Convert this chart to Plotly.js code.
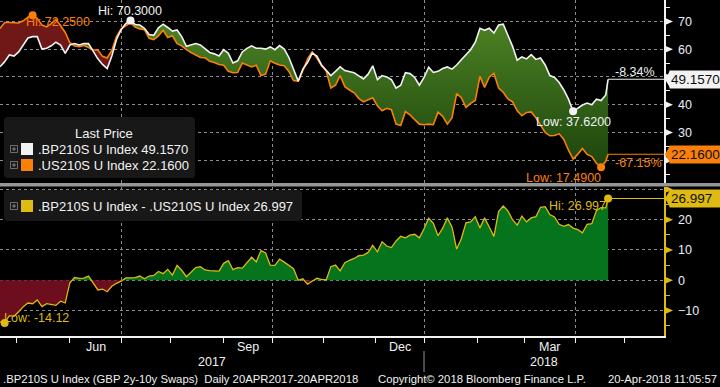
<!DOCTYPE html>
<html>
<head>
<meta charset="utf-8">
<script src="https://cdn.plot.ly/plotly-3.0.1.min.js"></script>
<style>
html,body{margin:0;padding:0;background:#000;}
#chart{width:720px;height:387px;}
</style>
</head>
<body>
<div id="chart"></div>
<script>
// ---------------- DATA ----------------
// x = trading-day index (weekdays since 20-Apr-2017), one sample every 2 trading days,
// the final sample is 20-Apr-2018 (trading day 261)
const sampleStep = 2;
const lastDay = 261;

// .BP210S U Index (GBP 2y-10y swap spread, bp)
const bp210s = [
  53.63, 55.5, 57.9, 57.5, 59, 61.5, 64, 64.5, 64.5, 60,
  60.3, 61.2, 62.5, 61.5, 58.5, 61.5, 62, 61.5, 62, 62,
  59, 56.5, 54.5, 53, 57.5, 63.5, 67, 69.2, 70.3, 68.9,
  68.7, 67.5, 65.3, 65, 67.7, 69, 67.8, 66.5, 66.9, 64.5,
  61, 61.6, 62, 61.5, 60.3, 58.8, 58.3, 57.5, 59.8, 58.5,
  55, 55.8, 59, 60.3, 61.2, 60.3, 60.3, 60, 60.8, 59.8,
  61.3, 60, 57, 52.5, 48.5, 52.8, 55.2, 58.6, 57.5, 54.3,
  52.2, 50.5, 52, 53.6, 52.3, 51.9, 51.5, 50.4, 49.3, 51,
  54, 49, 50.5, 50, 49, 46, 47, 51.5, 51.2, 49.8,
  47, 49.8, 53.5, 51.6, 52, 53, 53.6, 52.8, 54.3, 56.2,
  58, 59.8, 62.5, 67.5, 66.8, 67.5, 65.8, 68.7, 69, 65,
  61, 56, 57.2, 56.5, 58, 56.3, 56.8, 54.3, 50.5, 49.8,
  48, 45.3, 42, 37.62, 38.9, 39.9, 40.6, 40, 42, 41.5,
  43.5, 49.157
];

// .US210S U Index (USD 2y-10y swap spread, bp)
const us210s = [
  67.46, 69.62, 69.6, 69.4, 69.4, 70.2, 71.5, 72.25, 71, 68.7,
  68, 69.2, 70.8, 68.4, 66, 62.3, 61.1, 60.9, 61.3, 60.6,
  59.7, 59.7, 57.4, 56.8, 59.5, 64.5, 67.3, 68.4, 69.5, 68,
  67.3, 67, 63.9, 63.4, 64.8, 66.8, 64.2, 64.8, 62, 61.2,
  59.8, 58.8, 57.8, 57, 56.9, 55.6, 55.2, 54.5, 54.2, 52,
  51.5, 51.6, 55, 54.4, 53.6, 54.2, 50.5, 51, 55.8, 54.9,
  54.3, 54, 52, 48.7, 48.5, 52.3, 56.5, 59, 56.8, 54,
  52.1, 46, 47, 50.5, 46.5, 45.3, 44.3, 42.3, 41, 41.8,
  42.5, 39.6, 37.8, 38.7, 38.2, 33, 32.5, 37.5, 36.3, 34.6,
  33, 32.8, 33, 32.8, 37.3, 35.8, 33, 35.2, 44, 42.5,
  39, 40.5, 41.5, 50.2, 46.2, 49.9, 51.3, 46, 44.5, 42.1,
  41, 37.8, 36, 37.2, 37.4, 35.3, 32.7, 30, 28.8, 28.9,
  29.5, 27.5, 23.6, 20.4, 22.2, 24.2, 22.1, 21.3, 18.9, 17.49,
  19.6, 22.16
];

// Calendar (trading-day index of the first weekday of each month)
const monthStarts = [7, 30, 52, 73, 96, 117, 139, 161, 182, 205, 225, 247, 268];
const monthNames  = ['May','Jun','Jul','Aug','Sep','Oct','Nov','Dec','Jan','Feb','Mar','Apr','May'];
const labelledMonths = ['Jun', 'Sep', 'Dec', 'Mar'];
const quarterStarts = [52, 117, 182, 247];
const yearNames = ['2017', '2018'];
const yearBreak = 182;

// tick values; labels hidden behind the last-price tags are left empty
const topTicks = [20, 30, 40, 50, 60, 70];
const topTickText = ['', '30', '40', '', '60', '70'];
const bottomTicks = [-10, 0, 10, 20, 30];
const bottomTickText = ['\u221210', '0', '10', '20', ''];

const nameBP = '.BP210S U Index';
const nameUS = '.US210S U Index';
const footerLeft = '.BP210S U Index (GBP 2y-10y Swaps)  Daily 20APR2017-20APR2018';
const footerMid = 'Copyright\u00a9 2018 Bloomberg Finance L.P.';
const footerRight = '20-Apr-2018 11:05:57';

// ---------------- DERIVED ----------------
const days = bp210s.map((_, i) => (i < bp210s.length - 1 ? i * sampleStep : lastDay));
const spread = bp210s.map((v, i) => v - us210s[i]);
const nLast = bp210s.length - 1;
const bpLast = bp210s[nLast], usLast = us210s[nLast], spLast = spread[nLast];
const bpPct = (bpLast / bp210s[0] - 1) * 100;
const usPct = (usLast / us210s[0] - 1) * 100;
const argMax = a => a.reduce((m, v, i) => (v > a[m] ? i : m), 0);
const argMin = a => a.reduce((m, v, i) => (v < a[m] ? i : m), 0);

// ---------------- STYLE ----------------
const FONT = 'Liberation Sans, Arial, Helvetica, sans-serif';
const WHITE = 'rgb(242,242,242)';
const ORANGE = 'rgb(250,128,10)';
const YELLOW = 'rgb(222,186,18)';
const GRID = 'rgb(140,140,140)';
const XMAX = 285;
const PW = 664, PH = 336;           // plot area in pixels
const px = X => X / PW;             // pixel -> paper
const py = Y => (PH - Y) / PH;

// insert crossing points between series a and b
function withCrossings(xs, a, b) {
  const X = [], A = [], B = [];
  for (let i = 0; i < xs.length; i++) {
    if (i > 0) {
      const d0 = a[i-1] - b[i-1], d1 = a[i] - b[i];
      if (d0 * d1 < 0) {
        const t = d0 / (d0 - d1);
        const x = xs[i-1] + t * (xs[i] - xs[i-1]);
        const y = a[i-1] + t * (a[i] - a[i-1]);
        X.push(x); A.push(y); B.push(b[i-1] + t * (b[i] - b[i-1]));
      }
    }
    X.push(xs[i]); A.push(a[i]); B.push(b[i]);
  }
  return {X, A, B};
}

const topArea = withCrossings(days, bp210s, us210s);
const topUpper = topArea.A.map((v, i) => Math.max(v, topArea.B[i]));
const zeros = spread.map(() => 0);
const botArea = withCrossings(days, spread, zeros);

const noLine = {width: 0};
const traces = [
  // green area: US below BP
  {x: topArea.X, y: topArea.B, xaxis:'x', yaxis:'y', mode:'lines', line: noLine, hoverinfo:'skip'},
  {x: topArea.X, y: topUpper, xaxis:'x', yaxis:'y', mode:'lines', line: noLine, fill:'tonexty',
   fillcolor:'rgb(50,100,22)',
   fillgradient:{type:'vertical', start: 15, stop: 72,
     colorscale:[[0,'rgb(26,66,12)'],[1,'rgb(78,132,36)']]}, hoverinfo:'skip'},
  // red area: BP below US
  {x: topArea.X, y: topArea.A, xaxis:'x', yaxis:'y', mode:'lines', line: noLine, hoverinfo:'skip'},
  {x: topArea.X, y: topUpper, xaxis:'x', yaxis:'y', mode:'lines', line: noLine, fill:'tonexty',
   fillcolor:'rgb(112,24,24)', hoverinfo:'skip'},
  // lines
  {x: days, y: us210s, xaxis:'x', yaxis:'y', mode:'lines', line:{color: ORANGE, width: 1.6}},
  {x: days, y: bp210s, xaxis:'x', yaxis:'y', mode:'lines', line:{color: WHITE, width: 1.6}},
  {x: [lastDay, XMAX], y: [usLast, usLast], xaxis:'x', yaxis:'y', mode:'lines', line:{color: ORANGE, width: 1.2}},
  {x: [lastDay, XMAX], y: [bpLast, bpLast], xaxis:'x', yaxis:'y', mode:'lines', line:{color: WHITE, width: 1.2}},
  // hi / low markers
  {x: [days[argMax(bp210s)], days[argMin(bp210s)]], y: [bp210s[argMax(bp210s)], bp210s[argMin(bp210s)]],
   xaxis:'x', yaxis:'y', mode:'markers', marker:{color: WHITE, size: 8}, cliponaxis:false},
  {x: [days[argMax(us210s)], days[argMin(us210s)]], y: [us210s[argMax(us210s)], us210s[argMin(us210s)]],
   xaxis:'x', yaxis:'y', mode:'markers', marker:{color: ORANGE, size: 8}, cliponaxis:false},

  // bottom: spread
  {x: botArea.X, y: botArea.A.map(v => Math.max(v, 0)), xaxis:'x', yaxis:'y2', mode:'lines', line: noLine,
   fill:'tozeroy', fillcolor:'rgb(6,116,28)', hoverinfo:'skip'},
  {x: botArea.X, y: botArea.A.map(v => Math.min(v, 0)), xaxis:'x', yaxis:'y2', mode:'lines', line: noLine,
   fill:'tozeroy', fillcolor:'rgb(108,14,30)', hoverinfo:'skip'},
  {x: days, y: spread, xaxis:'x', yaxis:'y2', mode:'lines', line:{color: YELLOW, width: 1.3}},
  {x: [lastDay, XMAX], y: [spLast, spLast], xaxis:'x', yaxis:'y2', mode:'lines', line:{color: YELLOW, width: 1.2}},
  {x: [days[argMax(spread)], days[argMin(spread)]], y: [spread[argMax(spread)], spread[argMin(spread)]],
   xaxis:'x', yaxis:'y2', mode:'markers', marker:{color: YELLOW, size: 8}, cliponaxis:false}
];

// ---------------- SHAPES ----------------
const shapes = [];
// panel separator
shapes.push({type:'rect', xref:'paper', yref:'paper', x0: 0, x1: 720/PW, y0: py(186.5), y1: py(183),
  fillcolor:'rgb(150,150,150)', line:{width:0}, layer:'above'});

// tick flags
function flag(yref, v, color) {
  return {type:'path', xref:'paper', yref: yref, xsizemode:'pixel', ysizemode:'pixel',
    xanchor: 1, yanchor: v, path:'M0,-4L9,0L0,4Z', fillcolor: color, line:{width:0}, layer:'above'};
}
topTicks.forEach(v => shapes.push(flag('y', v, WHITE)));
bottomTicks.forEach(v => shapes.push(flag('y2', v, YELLOW)));

// price tags arrows
function tagArrow(yref, v, color) {
  return {type:'path', xref:'paper', yref: yref, xsizemode:'pixel', ysizemode:'pixel',
    xanchor: 1, yanchor: v, path:'M1,0L6,-8.5L6,8.5Z', fillcolor: color, line:{width:0}, layer:'above'};
}
shapes.push(tagArrow('y', bpLast, WHITE));
shapes.push(tagArrow('y', usLast, ORANGE));
shapes.push(tagArrow('y2', spLast, YELLOW));

// year separator on the date axis
shapes.push({type:'line', xref:'x', yref:'paper', x0: yearBreak, x1: yearBreak, y0: py(351), y1: py(372),
  line:{color:'rgb(150,150,150)', width:1}});

// legend boxes
function roundRect(X0, Y0, X1, Y1, r, fill) {
  const a = (X, Y) => px(X).toFixed(5) + ',' + py(Y).toFixed(5);
  const path = 'M' + a(X0 + r, Y0) + 'L' + a(X1 - r, Y0) + 'Q' + a(X1, Y0) + ' ' + a(X1, Y0 + r) +
    'L' + a(X1, Y1 - r) + 'Q' + a(X1, Y1) + ' ' + a(X1 - r, Y1) +
    'L' + a(X0 + r, Y1) + 'Q' + a(X0, Y1) + ' ' + a(X0, Y1 - r) +
    'L' + a(X0, Y0 + r) + 'Q' + a(X0, Y0) + ' ' + a(X0 + r, Y0) + 'Z';
  return {type:'path', xref:'paper', yref:'paper', path: path, fillcolor: fill, line:{width:0}, layer:'above'};
}
function rectPx(X0, Y0, X1, Y1, fill, lineColor) {
  return {type:'rect', xref:'paper', yref:'paper', x0: px(X0), x1: px(X1), y0: py(Y1), y1: py(Y0),
    fillcolor: fill, line: lineColor ? {color: lineColor, width: 1} : {width: 0}, layer:'above'};
}
function expander(Xc, Yc) {
  const out = [rectPx(Xc - 3.5, Yc - 3.5, Xc + 3.5, Yc + 3.5, 'rgba(0,0,0,0)', 'rgb(110,110,110)')];
  out.push({type:'line', xref:'paper', yref:'paper', x0: px(Xc - 2), x1: px(Xc + 2), y0: py(Yc), y1: py(Yc),
    line:{color:'rgb(130,130,130)', width:1}, layer:'above'});
  out.push({type:'line', xref:'paper', yref:'paper', x0: px(Xc), x1: px(Xc), y0: py(Yc - 2), y1: py(Yc + 2),
    line:{color:'rgb(130,130,130)', width:1}, layer:'above'});
  return out;
}
shapes.push(roundRect(4, 117, 195, 178, 4, 'rgb(24,24,24)'));
shapes.push(...expander(14, 149), rectPx(21, 143, 33, 155, WHITE));
shapes.push(...expander(14, 165), rectPx(21, 159, 33, 171, ORANGE));
shapes.push(roundRect(4, 190, 302, 221, 4, 'rgb(24,24,24)'));
shapes.push(...expander(14, 206), rectPx(21, 200, 33, 212, YELLOW));

// ---------------- ANNOTATIONS ----------------
const ann = [];
function txt(o) {
  return Object.assign({showarrow:false, font:{family: FONT, size: 12, color: WHITE}}, o);
}
// legends
ann.push(txt({xref:'paper', yref:'paper', x: px(104), y: py(133), xanchor:'center', yanchor:'middle',
  text:'Last Price', font:{family: FONT, size: 13, color: WHITE}}));
ann.push(txt({xref:'paper', yref:'paper', x: px(36), y: py(149), xanchor:'left', yanchor:'middle',
  text: nameBP + ' ' + bpLast.toFixed(4), font:{family: FONT, size: 13, color: WHITE}}));
ann.push(txt({xref:'paper', yref:'paper', x: px(36), y: py(165), xanchor:'left', yanchor:'middle',
  text: nameUS + ' ' + usLast.toFixed(4), font:{family: FONT, size: 13, color: WHITE}}));
ann.push(txt({xref:'paper', yref:'paper', x: px(36), y: py(206), xanchor:'left', yanchor:'middle',
  text: nameBP + ' - ' + nameUS + ' ' + spLast.toFixed(3), font:{family: FONT, size: 13, color: WHITE}}));

// hi / low labels
const iBH = argMax(bp210s), iBL = argMin(bp210s), iUH = argMax(us210s), iUL = argMin(us210s);
const iSH = argMax(spread), iSL = argMin(spread);
ann.push(txt({x: days[iBH], y: bp210s[iBH], xref:'x', yref:'y', xanchor:'center', yanchor:'middle', yshift: 10,
  text:'Hi: ' + bp210s[iBH].toFixed(4), font:{family: FONT, size: 12.5, color: WHITE}}));
ann.push(txt({x: days[iUH], y: us210s[iUH], xref:'x', yref:'y', xanchor:'left', yanchor:'middle', xshift: -9, yshift: -7,
  text:'Hi: ' + us210s[iUH].toFixed(4), font:{family: FONT, size: 12.5, color: ORANGE}}));
ann.push(txt({x: days[iBL], y: bp210s[iBL], xref:'x', yref:'y', xanchor:'center', yanchor:'middle', yshift: -11,
  text:'Low: ' + bp210s[iBL].toFixed(4), font:{family: FONT, size: 12.5, color: WHITE}}));
ann.push(txt({x: days[iUL], y: us210s[iUL], xref:'x', yref:'y', xanchor:'right', yanchor:'middle', xshift: 2, yshift: -11,
  text:'Low: ' + us210s[iUL].toFixed(4), font:{family: FONT, size: 12.5, color: ORANGE}}));
ann.push(txt({x: days[iSH], y: spread[iSH], xref:'x', yref:'y2', xanchor:'right', yanchor:'middle', xshift: 0, yshift: -7,
  text:'Hi: ' + spread[iSH].toFixed(3), font:{family: FONT, size: 12.5, color: YELLOW}}));
ann.push(txt({x: days[iSL], y: spread[iSL], xref:'x', yref:'y2', xanchor:'left', yanchor:'middle', xshift: -3, yshift: 5,
  text:'Low: ' + spread[iSL].toFixed(2), font:{family: FONT, size: 12.5, color: YELLOW}}));

// percent change labels
ann.push(txt({x: 1, xref:'paper', y: bpLast, yref:'y', xanchor:'right', yanchor:'middle', xshift: -7, yshift: 7,
  text: bpPct.toFixed(2) + '%', font:{family: FONT, size: 12.5, color: WHITE}}));
ann.push(txt({x: 1, xref:'paper', y: usLast, yref:'y', xanchor:'right', yanchor:'middle', xshift: 0, yshift: -9,
  text: usPct.toFixed(2) + '%', font:{family: FONT, size: 12.5, color: ORANGE}}));

// price tags
function tag(yref, v, text, bg) {
  return {x: 1, xref:'paper', y: v, yref: yref, xanchor:'left', yanchor:'middle', xshift: 5,
    text: text, showarrow:false, bgcolor: bg, borderpad: 1, width: 52, height: 15, align:'left',
    font:{family: FONT, size: 13.5, color:'rgb(15,15,15)'}};
}
ann.push(tag('y', bpLast, bpLast.toFixed(4), WHITE));
ann.push(tag('y', usLast, usLast.toFixed(4), ORANGE));
ann.push(tag('y2', spLast, spLast.toFixed(3), YELLOW));

// month labels (centred in the month) and year labels
labelledMonths.forEach(m => {
  const k = monthNames.indexOf(m, 1);
  const c = (monthStarts[k] + monthStarts[k + 1]) / 2;
  ann.push(txt({x: c, xref:'x', y: py(347), yref:'paper', xanchor:'center', yanchor:'middle', text: m,
    font:{family: FONT, size: 12.5, color: WHITE}}));
});
ann.push(txt({x: yearBreak / 2, xref:'x', y: py(362), yref:'paper', xanchor:'center', yanchor:'middle',
  text: yearNames[0], font:{family: FONT, size: 12.5, color: WHITE}}));
ann.push(txt({x: (yearBreak + XMAX) / 2, xref:'x', y: py(362), yref:'paper', xanchor:'center', yanchor:'middle',
  text: yearNames[1], font:{family: FONT, size: 12.5, color: WHITE}}));

// footer
ann.push(txt({x: px(1), xref:'paper', y: py(379), yref:'paper', xanchor:'left', yanchor:'middle',
  text: footerLeft, font:{family: FONT, size: 11.3, color: WHITE}}));
ann.push(txt({x: px(376), xref:'paper', y: py(379), yref:'paper', xanchor:'left', yanchor:'middle',
  text: footerMid, font:{family: FONT, size: 11.3, color: WHITE}}));
ann.push(txt({x: px(719), xref:'paper', y: py(379), yref:'paper', xanchor:'right', yanchor:'middle',
  text: footerRight, font:{family: FONT, size: 11.3, color: WHITE}}));

// ---------------- LAYOUT ----------------
const gridStyle = {showgrid: true, gridcolor: GRID, gridwidth: 1, griddash: '3px,3px'};
const layout = {
  width: 720, height: 387,
  margin: {l: 0, r: 56, t: 0, b: 51, pad: 0},
  paper_bgcolor: '#000', plot_bgcolor: '#000',
  showlegend: false,
  font: {family: FONT, color: WHITE, size: 12},
  xaxis: Object.assign({
    range: [0, XMAX], anchor: 'y2', tickvals: quarterStarts, ticktext: quarterStarts.map(() => ''),
    ticks: 'outside', ticklen: 5, tickcolor: WHITE, tickwidth: 1,
    showline: true, linecolor: WHITE, linewidth: 1.5, zeroline: false,
    minor: {tickvals: monthStarts, ticks: 'outside', ticklen: 5, tickcolor: WHITE, tickwidth: 1, showgrid: false}
  }, gridStyle),
  yaxis: Object.assign({
    domain: [(PH - 183) / PH, 1], range: [11.8, 77.7], side: 'right', anchor: 'x',
    tickvals: topTicks, ticktext: topTickText,
    ticks: 'outside', ticklen: 10, tickcolor: 'rgba(0,0,0,0)',
    tickfont: {family: FONT, size: 12.5, color: 'rgb(236,238,250)'},
    showline: true, linecolor: WHITE, linewidth: 1.5, zeroline: false,
    minor: {dtick: 5, tick0: 0, ticks: 'outside', ticklen: 4, tickcolor: WHITE, tickwidth: 1, showgrid: false}
  }, gridStyle),
  yaxis2: Object.assign({
    domain: [0, (PH - 187) / PH], range: [-18.4, 30.8], side: 'right', anchor: 'x',
    tickvals: bottomTicks, ticktext: bottomTickText,
    ticks: 'outside', ticklen: 10, tickcolor: 'rgba(0,0,0,0)',
    tickfont: {family: FONT, size: 12.5, color: 'rgb(236,238,250)'},
    showline: true, linecolor: YELLOW, linewidth: 1.5, zeroline: false,
    minor: {dtick: 5, tick0: 0, ticks: 'outside', ticklen: 4, tickcolor: YELLOW, tickwidth: 1, showgrid: false}
  }, gridStyle),
  shapes: shapes,
  annotations: ann
};

Plotly.newPlot('chart', traces, layout, {staticPlot: true, displayModeBar: false});
</script>
</body>
</html>
